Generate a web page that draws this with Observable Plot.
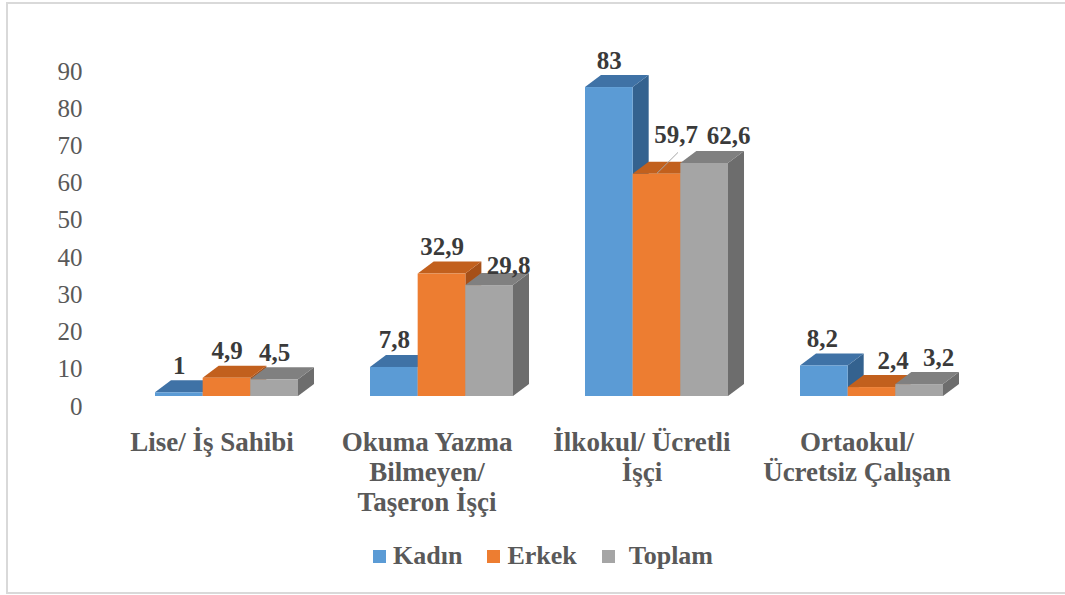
<!DOCTYPE html>
<html>
<head>
<meta charset="utf-8">
<script src="https://cdn.jsdelivr.net/npm/d3@7"></script>
<script src="https://cdn.jsdelivr.net/npm/@observablehq/plot@0.6"></script>
<style>
  html, body { margin: 0; padding: 0; background: #fff; overflow: hidden; }
  #wrap { position: relative; width: 1065px; height: 595px; }
  #border { position: absolute; left: 6px; top: 2px; width: 1080px; height: 588px; border: 2px solid #d9d9d9; box-sizing: content-box; }
  #chart { position: absolute; left: 0; top: 0; }
  #legend { position: absolute; left: 373px; top: 538px; height: 36px; display: flex; align-items: center;
            font-family: "Liberation Serif", "Times New Roman", serif; font-weight: bold; font-size: 26px; color: #595959; }
  .sw { display: inline-block; width: 13px; height: 13px; margin-right: 7px; }
  .item { display: flex; align-items: center; margin-right: 25px; }
</style>
</head>
<body>
<div id="wrap">
  <div id="border"></div>
  <div id="chart"></div>
  <div id="legend"></div>
</div>
<script>
// ---- data ----
const categories = ["Lise/ İş Sahibi", "Okuma Yazma Bilmeyen/ Taşeron İşçi", "İlkokul/ Ücretli İşçi", "Ortaokul/ Ücretsiz Çalışan"];
const categoryLines = ["Lise/ İş Sahibi", "Okuma Yazma\nBilmeyen/\nTaşeron İşçi", "İlkokul/ Ücretli\nİşçi", "Ortaokul/\nÜcretsiz Çalışan"];
const series = ["Kadın", "Erkek", "Toplam"];
const kadin = [1, 7.8, 83, 8.2];
const erkek = [4.9, 32.9, 59.7, 2.4];
const toplam = [4.5, 29.8, 62.6, 3.2];
const yTicks = [0, 10, 20, 30, 40, 50, 60, 70, 80, 90];

// ---- styling ----
const frontColors = ["#5b9bd5", "#ed7d31", "#a5a5a5"];
const topColors = ["#3f72a6", "#c2601d", "#808080"];
const sideColors = ["#34628f", "#a65018", "#6d6d6d"];
const depthX = 0.336;   // 3D depth offset in bar-width units
const depthY = 3.23;    // 3D depth offset in value units
const frontShift = -10; // front faces sit slightly above the axis baseline
// label nudges in px [dx, dy] per series / category
const labelNudge = [
  [[0, 0], [0, 0], [0, 0], [-2, 0]],
  [[0, 0], [0, 0], [19, -12], [21, 0]],
  [[0, 0], [19, 7], [24, 0], [19, 0]]
];

const valuesBySeries = [kadin, erkek, toplam];
const rows = [];
series.forEach((s, si) => {
  categories.forEach((c, ci) => {
    rows.push({cat: c, ci, series: s, si, value: valuesBySeries[si][ci], id: s + "|" + c});
  });
});

const marks = [];
series.forEach((s, si) => {
  const r = rows.filter(d => d.si === si);
  // side face
  const side = r.flatMap(d => [
    {cat: d.cat, id: d.id, x: si + 1, y1: 0, y2: d.value},
    {cat: d.cat, id: d.id, x: si + 1 + depthX, y1: depthY, y2: d.value + depthY}
  ]);
  // top face
  const top = r.flatMap(d => [
    {cat: d.cat, id: d.id, x: si, y1: d.value, y2: d.value},
    {cat: d.cat, id: d.id, x: si + depthX, y1: d.value, y2: d.value + depthY},
    {cat: d.cat, id: d.id, x: si + 1, y1: d.value, y2: d.value + depthY},
    {cat: d.cat, id: d.id, x: si + 1 + depthX, y1: d.value + depthY, y2: d.value + depthY}
  ]);
  marks.push(Plot.area(side, {fx: "cat", x1: "x", y1: "y1", y2: "y2", z: "id", fill: sideColors[si], curve: "linear", dy: frontShift}));
  marks.push(Plot.area(top, {fx: "cat", x1: "x", y1: "y1", y2: "y2", z: "id", fill: topColors[si], curve: "linear", dy: frontShift}));
  marks.push(Plot.rectY(r, {fx: "cat", x1: d => d.si, x2: d => d.si + 1, y1: 0, y2: "value", fill: frontColors[si], dy: frontShift}));
});

// leader line for the nudged 59,7 label
const leader = rows.filter(d => d.si === 1 && d.ci === 2);
marks.push(Plot.link(leader, {fx: "cat", x1: d => d.si + 0.5, y1: "value", x2: d => d.si + 0.94, y2: d => d.value + 5.6,
  stroke: "#a6a6a6", strokeWidth: 1, dy: frontShift - 1}));

// value labels
rows.forEach(d => {
  const [ndx, ndy] = labelNudge[d.si][d.ci];
  marks.push(Plot.text([d], {fx: "cat", x: v => v.si + 0.5, y: "value", text: v => String(v.value).replace(".", ","),
    lineAnchor: "bottom", dx: ndx, dy: -29 + ndy, fontSize: 25, fontWeight: "bold", fill: "#3a3a3a"}));
});

// category labels
marks.push(Plot.text(categories, {fx: d => d, text: (d, i) => categoryLines[i], frameAnchor: "bottom", lineAnchor: "top",
  dx: -15, dy: 23, fontSize: 27, fontWeight: "bold", fill: "#595959", lineHeight: 1.12}));

const chart = Plot.plot({
  width: 1065,
  height: 530,
  marginTop: 71,
  marginBottom: 124,
  marginLeft: 155,
  marginRight: 122,
  style: {fontFamily: "'Liberation Serif', 'Times New Roman', serif", fontSize: "25px", color: "#595959", background: "transparent", overflow: "visible"},
  fx: {domain: categories, paddingInner: 0.335, paddingOuter: 0, axis: null, label: null},
  x: {domain: [0, 3], axis: null},
  y: {domain: [0, 90], ticks: yTicks, tickSize: 0, tickPadding: 73, label: null, grid: false},
  marks
});
document.getElementById("chart").appendChild(chart);

// legend
const legend = document.getElementById("legend");
series.forEach((s, si) => {
  const item = document.createElement("div");
  item.className = "item";
  const sw = document.createElement("span");
  sw.className = "sw";
  sw.style.background = frontColors[si];
  if (si === 2) sw.style.marginRight = "14px";
  const t = document.createElement("span");
  t.textContent = s;
  item.appendChild(sw);
  item.appendChild(t);
  legend.appendChild(item);
});
</script>
</body>
</html>
